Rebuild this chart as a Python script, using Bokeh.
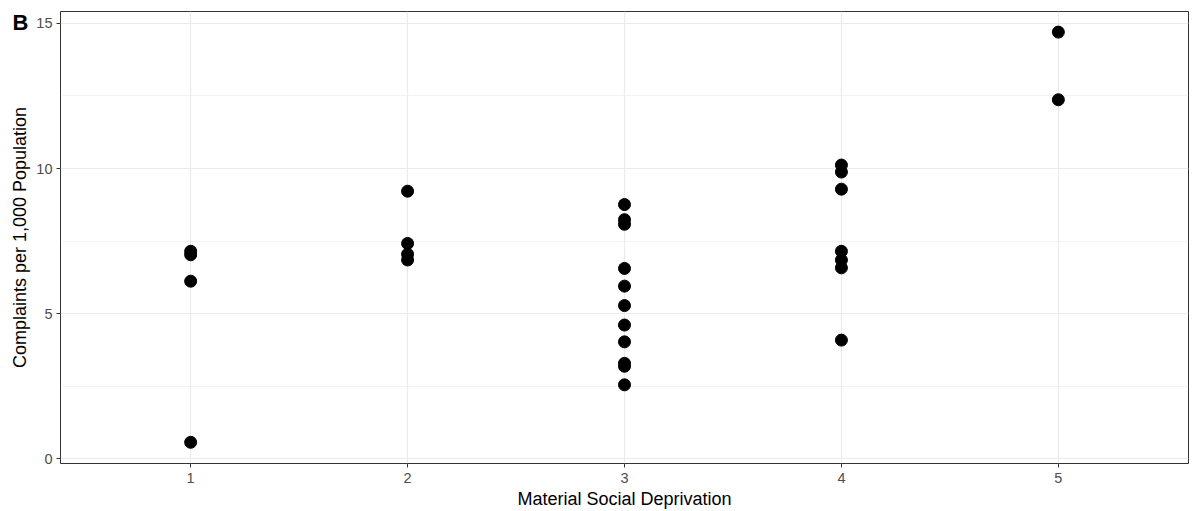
from bokeh.plotting import figure
from bokeh.models import FixedTicker, Range1d
from bokeh.embed import file_html
from bokeh.resources import INLINE

# Data
deprivation = [1, 1, 1, 1,
               2, 2, 2, 2,
               3, 3, 3, 3, 3, 3, 3, 3, 3, 3, 3,
               4, 4, 4, 4, 4, 4, 4,
               5, 5]
complaints = [7.15, 7.03, 6.12, 0.57,
              9.22, 7.42, 7.05, 6.85,
              8.76, 8.24, 8.08, 6.56, 5.95, 5.28, 4.61, 4.03, 3.29, 3.19, 2.55,
              10.12, 9.88, 9.29, 7.15, 6.85, 6.58, 4.09,
              14.7, 12.37]
x_ticks = [1, 2, 3, 4, 5]
y_ticks = [0, 5, 10, 15]
y_minor = [2.5, 7.5, 12.5]

FONT = "Liberation Sans"

p = figure(width=1193, height=511, output_backend="svg", toolbar_location=None,
           x_range=Range1d(0.4, 5.6), y_range=Range1d(-0.16, 15.41),
           min_border_left=60, min_border_right=5, min_border_top=11, min_border_bottom=46)

p.scatter(deprivation, complaints, size=12, color="black")

p.title.text = "B"
p.title.align = "left"
p.title.offset = -48
p.title.standoff = -46
p.title.text_font = FONT
p.title.text_font_size = "22px"
p.title.text_font_style = "bold"
p.title.text_color = "black"

p.outline_line_color = "#333333"
p.outline_line_width = 1
p.background_fill_color = "white"
p.border_fill_color = "white"

p.xaxis.ticker = FixedTicker(ticks=x_ticks)
p.yaxis.ticker = FixedTicker(ticks=y_ticks, minor_ticks=y_minor)
p.xgrid.ticker = FixedTicker(ticks=x_ticks)
p.ygrid.ticker = FixedTicker(ticks=y_ticks, minor_ticks=y_minor)

for g in (p.xgrid, p.ygrid):
    g.grid_line_color = "#EBEBEB"
    g.grid_line_width = 1.2
p.ygrid.minor_grid_line_color = "#EBEBEB"
p.ygrid.minor_grid_line_width = 0.6

for ax in (p.xaxis, p.yaxis):
    ax.axis_line_color = None
    ax.major_tick_line_color = "#333333"
    ax.major_tick_out = 4
    ax.major_tick_in = 0
    ax.minor_tick_line_color = None
    ax.major_label_text_color = "#4D4D4D"
    ax.major_label_text_font = FONT
    ax.major_label_text_font_size = "14.5px"
    ax.axis_label_text_font = FONT
    ax.axis_label_text_font_size = "18px"
    ax.axis_label_text_font_style = "normal"
    ax.axis_label_text_color = "black"

p.xaxis.axis_label = "Material Social Deprivation"
p.yaxis.axis_label = "Complaints per 1,000 Population"
p.xaxis.major_label_standoff = 5
p.xaxis.axis_label_standoff = 3
p.yaxis.major_label_standoff = 4
p.yaxis.axis_label_standoff = 3

open("out.html", "w").write(file_html(p, INLINE))
